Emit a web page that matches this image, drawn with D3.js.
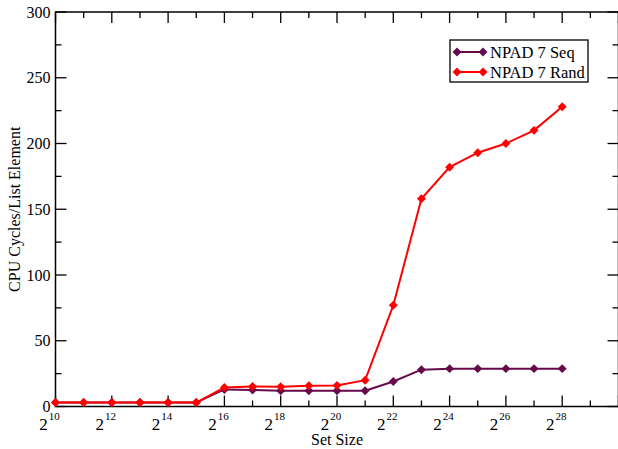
<!DOCTYPE html>
<html>
<head>
<meta charset="utf-8">
<script src="https://cdn.jsdelivr.net/npm/d3@7"></script>
<style>
  body { margin: 0; background: #fff; }
  svg { display: block; font-family: "Liberation Serif", "DejaVu Serif", serif; }
</style>
</head>
<body>
<script>
// exponents of the set size (2^n)
var exps = [10,11,12,13,14,15,16,17,18,19,20,21,22,23,24,25,26,27,28];
var seqVals = [3,3,3,3,3,3,13,12.6,12,12,12,12,19,28,28.8,28.8,28.8,28.8,28.8];
var randVals = [3,3,3,3,3,3,14.4,15.2,15,15.8,16,20,77,158,182,193,200,210,228];
var seriesNames = ["NPAD 7 Seq", "NPAD 7 Rand"];
var seriesColors = ["#660a4c", "#ff0000"];
var yTicks = [0,50,100,150,200,250,300];

var width = 618, height = 449;
var plotL = 55.5, plotR = 618.5, plotT = 12, plotB = 406.5;

var svg = d3.select("body").append("svg")
  .attr("width", width).attr("height", height);

var x = d3.scaleLinear().domain([10, 30]).range([plotL, plotR]);
var y = d3.scaleLinear().domain([0, 300]).range([plotB, plotT]);

// frame
svg.append("rect")
  .attr("x", plotL).attr("y", plotT)
  .attr("width", plotR - plotL).attr("height", plotB - plotT)
  .attr("fill", "none").attr("stroke", "#000").attr("stroke-width", 1.5);

// ticks: major every 2 powers / 50, minor between; mirrored on top and right
var g = svg.append("g").attr("stroke", "#000").attr("stroke-width", 1.3);
d3.range(10, 31).forEach(function(e) {
  var len = e % 2 === 0 ? 11 : 6;
  g.append("line").attr("x1", x(e)).attr("x2", x(e)).attr("y1", plotB).attr("y2", plotB - len);
  g.append("line").attr("x1", x(e)).attr("x2", x(e)).attr("y1", plotT).attr("y2", plotT + len);
});
d3.range(0, 301, 25).forEach(function(v) {
  var len = v % 50 === 0 ? 11 : 6;
  g.append("line").attr("y1", y(v)).attr("y2", y(v)).attr("x1", plotL).attr("x2", plotL + len);
  g.append("line").attr("y1", y(v)).attr("y2", y(v)).attr("x1", plotR).attr("x2", plotR - len);
});

// y labels
svg.append("g").selectAll("text")
  .data(yTicks).join("text")
  .attr("x", plotL - 5).attr("y", function(d) { return y(d); })
  .attr("dy", "0.35em")
  .attr("text-anchor", "end")
  .attr("font-size", 16)
  .text(function(d) { return d; });

// x labels 2^n
var xl = svg.append("g").selectAll("text")
  .data(d3.range(10, 29, 2)).join("text")
  .attr("x", function(d) { return x(d) - 6; })
  .attr("y", 430)
  .attr("font-size", 17)
  .attr("text-anchor", "middle");
xl.append("tspan").text("2");
xl.append("tspan").attr("dy", -10).attr("font-size", 11).attr("dx", 1)
  .text(function(d) { return d; });

// axis titles
svg.append("text").attr("x", 337).attr("y", 445)
  .attr("text-anchor", "middle").attr("font-size", 16).text("Set Size");
svg.append("text")
  .attr("transform", "translate(20," + (plotT + plotB) / 2 + ") rotate(-90)")
  .attr("text-anchor", "middle").attr("font-size", 16)
  .text("CPU Cycles/List Element");

// series
var series = [seqVals, randVals];
var line = d3.line().x(function(d, i) { return x(exps[i]); }).y(function(d) { return y(d); });
var diamond = d3.symbol().type(d3.symbolSquare).size(40);

series.forEach(function(vals, k) {
  svg.append("path").datum(vals)
    .attr("d", line).attr("fill", "none")
    .attr("stroke", seriesColors[k]).attr("stroke-width", 2);
  svg.append("g").selectAll("path").data(vals).join("path")
    .attr("d", diamond)
    .attr("transform", function(d, i) { return "translate(" + x(exps[i]) + "," + y(d) + ") rotate(45)"; })
    .attr("fill", seriesColors[k]);
});

// legend
var lg = svg.append("g");
lg.append("rect").attr("x", 450).attr("y", 40).attr("width", 138).attr("height", 42)
  .attr("fill", "#fff").attr("stroke", "#000").attr("stroke-width", 1.3);
seriesNames.forEach(function(name, k) {
  var yy = 52 + k * 20;
  lg.append("line").attr("x1", 457).attr("x2", 483).attr("y1", yy).attr("y2", yy)
    .attr("stroke", seriesColors[k]).attr("stroke-width", 2);
  [457, 483].forEach(function(xx) {
    lg.append("path").attr("d", diamond).attr("transform", "translate(" + xx + "," + yy + ") rotate(45)")
      .attr("fill", seriesColors[k]);
  });
  lg.append("text").attr("x", 490).attr("y", yy).attr("dy", "0.35em")
    .attr("font-size", 16.5).text(name);
});
</script>
</body>
</html>
